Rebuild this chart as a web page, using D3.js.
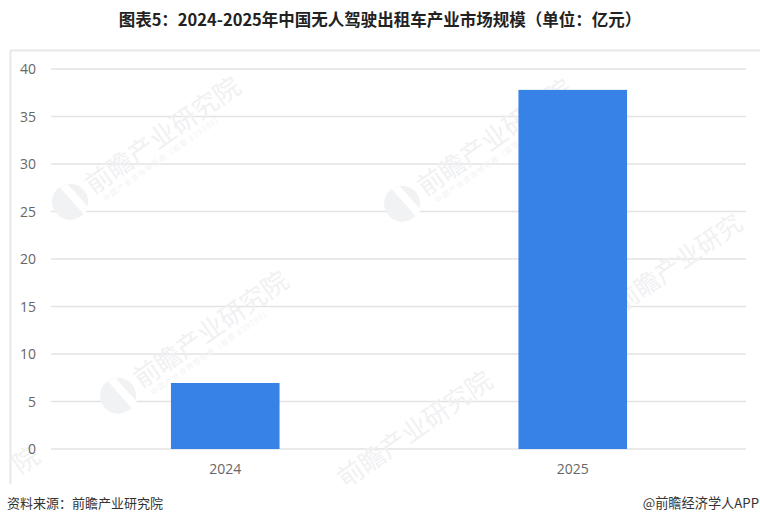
<!DOCTYPE html>
<html><head><meta charset="utf-8">
<script src="https://cdn.jsdelivr.net/npm/d3@7"></script>
<style>html,body{margin:0;padding:0;background:#fff}svg{display:block}</style>
</head><body><div id="c"></div>
<script>
const categories = ["2024", "2025"];
const values = [6.95, 37.8];
const yTicks = [0, 5, 10, 15, 20, 25, 30, 35, 40];
const titleText = "图表5：2024-2025年中国无人驾驶出租车产业市场规模（单位：亿元）";
const sourceText = "资料来源：前瞻产业研究院";
const creditText = "@前瞻经济学人APP";
const watermarkMain = "前瞻产业研究院";
const watermarkCut = "前瞻产业研究";
const watermarkTail = "院";
const watermarkSub = "中国产业咨询领导者（股票 839399）";

const W = 760, H = 524;
const cjk = "'Noto Sans CJK SC','Liberation Sans',sans-serif";
const svg = d3.select("#c").append("svg").attr("width", W).attr("height", H);

const x = d3.scaleBand().domain(categories).range([51.5, 746.5]).paddingInner(0.6875).paddingOuter(0.34375);
const y = d3.scaleLinear().domain([0, 40]).range([449, 69]);

svg.append("clipPath").attr("id", "fr").append("rect").attr("x", 0).attr("y", 52).attr("width", 760).attr("height", 432);

// frame
svg.append("path").attr("d", "M770,50.5H10.5V484").attr("fill", "none").attr("stroke", "#e8e8e8").attr("stroke-width", 2);

// grid
svg.append("g").selectAll("line").data(yTicks).join("line")
  .attr("x1", 51).attr("x2", 746)
  .attr("y1", d => y(d)).attr("y2", d => y(d))
  .attr("stroke", "#e3e3e3").attr("stroke-width", 1.3);

// watermark
const drawMark = (g, px, py, main, sub, logo, size = 26) => {
  const m = g.append("g").attr("transform", `translate(${px},${py}) rotate(-35)`);
  if (logo) {
    m.append("circle").attr("cx", -17).attr("cy", 0).attr("r", 18).attr("fill", "#f1f2f4");
    m.append("path").attr("d", "M-17,-18L-13,18L-5,16L-9,-16Z").attr("fill", "#fff");
  }
  m.append("text").attr("x", 6).attr("y", 8).text(main)
    .attr("font-family", cjk).attr("font-size", size).attr("fill", "#f0f1f3");
  if (sub) m.append("text").attr("x", 12).attr("y", 20).text(sub)
    .attr("font-family", cjk).attr("font-size", 7.5).attr("letter-spacing", 1).attr("fill", "#f2f3f5");
};

const wm = svg.append("g").attr("clip-path", "url(#fr)");
drawMark(wm, 84, 192, watermarkMain, watermarkSub, true);
drawMark(wm, 416, 194, watermarkMain, watermarkSub, true);
drawMark(wm, 612, 310, watermarkCut, null, true, 25);
drawMark(wm, 132, 386, watermarkMain, watermarkSub, true);
drawMark(wm, 336, 486, watermarkMain, null, false);
drawMark(wm, 11, 472, watermarkTail, null, false);

// bars
svg.append("g").selectAll("rect").data(categories).join("rect")
  .attr("x", d => x(d)).attr("width", x.bandwidth())
  .attr("y", (d, i) => y(values[i])).attr("height", (d, i) => y(0) - y(values[i]))
  .attr("fill", "#3782e6");

// axes labels
svg.append("g").selectAll("text").data(yTicks).join("text")
  .attr("x", 36).attr("y", d => y(d)).attr("dy", "0.36em")
  .attr("text-anchor", "end").attr("font-family", "'Open Sans','Liberation Sans',sans-serif")
  .attr("font-size", 14).attr("fill", "#666").text(d => d);

svg.append("g").selectAll("text").data(categories).join("text")
  .attr("x", d => x(d) + x.bandwidth() / 2).attr("y", 474)
  .attr("text-anchor", "middle").attr("font-family", "'Open Sans','Liberation Sans',sans-serif")
  .attr("font-size", 14).attr("fill", "#666").text(d => d);

// title and notes
svg.append("text").attr("x", 380).attr("y", 26).attr("text-anchor", "middle")
  .attr("font-family", cjk).attr("font-weight", 700).attr("font-size", 16.5).attr("fill", "#222").text(titleText);
svg.append("text").attr("x", 7).attr("y", 508)
  .attr("font-family", cjk).attr("font-size", 13).attr("fill", "#333").text(sourceText);
svg.append("text").attr("x", 759).attr("y", 508).attr("text-anchor", "end")
  .attr("font-family", cjk).attr("font-size", 13.2).attr("fill", "#333").text(creditText);
</script></body></html>
